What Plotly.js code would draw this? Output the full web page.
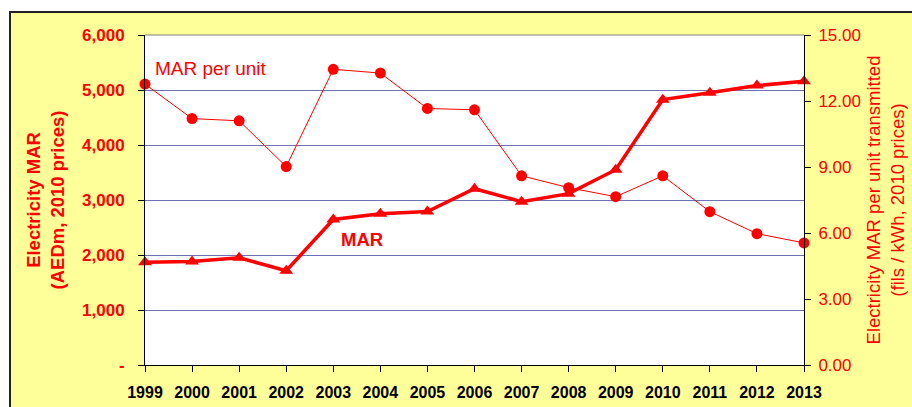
<!DOCTYPE html>
<html>
<head>
<meta charset="utf-8">
<script src="https://cdn.plot.ly/plotly-3.0.1.min.js"></script>
<style>
  html, body { margin: 0; padding: 0; background: #ffffff; width: 912px; height: 407px; overflow: hidden; }
  #frame { position: absolute; left: 9px; top: 11px; width: 920px; height: 420px;
           background: #FFFF99; border-left: 2px solid #222; border-top: 2px solid #222; }
  #chart { position: absolute; left: 0; top: 0; width: 912px; height: 407px; }
</style>
</head>
<body>
<div id="frame"></div>
<div id="chart"></div>
<script>
const years = [1999, 2000, 2001, 2002, 2003, 2004, 2005, 2006, 2007, 2008, 2009, 2010, 2011, 2012, 2013];
const mar = [1870, 1880, 1950, 1715, 2645, 2750, 2790, 3205, 2970, 3115, 3550, 4825, 4950, 5080, 5160];
const marPerUnit = [12.77, 11.2, 11.1, 9.02, 13.44, 13.27, 11.66, 11.6, 8.6, 8.06, 7.65, 8.6, 6.97, 5.97, 5.55];
const leftTickVals = [0, 1000, 2000, 3000, 4000, 5000, 6000];
const leftTickText = ['-', '1,000', '2,000', '3,000', '4,000', '5,000', '6,000'];
const rightTickVals = [0, 3, 6, 9, 12, 15];
const yearLabels = years.map(String);

const FONT = 'Arial, "Liberation Sans", sans-serif';
const RED = '#ff0000';

const traces = [
  {
    x: years, y: mar, name: 'MAR', type: 'scatter', mode: 'lines+markers',
    line: { color: RED, width: 3.5 },
    marker: { symbol: 'triangle-up', size: 12, color: RED },
    cliponaxis: false, yaxis: 'y', hoverinfo: 'x+y'
  },
  {
    x: years, y: marPerUnit, name: 'MAR per unit', type: 'scatter', mode: 'lines+markers',
    line: { color: RED, width: 1 },
    marker: { symbol: 'circle', size: 11, color: RED },
    cliponaxis: false, yaxis: 'y2', hoverinfo: 'x+y'
  }
];

const layout = {
  width: 912, height: 407,
  margin: { l: 145, r: 108, t: 35, b: 42 },
  paper_bgcolor: 'rgba(0,0,0,0)',
  plot_bgcolor: '#ffffff',
  showlegend: false,
  font: { family: FONT },
  xaxis: {
    range: [1999, 2013], tickvals: years, ticktext: yearLabels,
    showgrid: false, zeroline: false,
    showline: true, linecolor: '#000', linewidth: 1,
    ticks: 'outside', ticklen: 6, tickcolor: '#000',
    tickfont: { family: FONT, size: 16, color: '#000', weight: 'bold' },
    ticklabelstandoff: 7
  },
  yaxis: {
    range: [0, 6000], tickvals: leftTickVals, ticktext: leftTickText,
    showgrid: true, gridcolor: '#7070b4', gridwidth: 1, zeroline: false,
    showline: true, linecolor: '#000', linewidth: 1,
    ticks: 'outside', ticklen: 6, tickcolor: '#000',
    tickfont: { family: FONT, size: 17, color: RED, weight: 'bold' },
    ticklabelstandoff: 10,
    title: { text: 'Electricity MAR<br>(AEDm, 2010 prices)', standoff: 12,
             font: { family: FONT, size: 18.5, color: RED, weight: 'bold' } }
  },
  yaxis2: {
    range: [0, 15], tickvals: rightTickVals, tickformat: '.2f',
    overlaying: 'y', side: 'right',
    showgrid: false, zeroline: false,
    showline: true, linecolor: '#000', linewidth: 1,
    ticks: 'outside', ticklen: 6, tickcolor: '#000',
    tickfont: { family: FONT, size: 17, color: RED },
    ticklabelstandoff: 4,
    title: { text: 'Electricity MAR per unit transmitted<br>(fils / kWh, 2010 prices)', standoff: 7,
             font: { family: FONT, size: 18.5, color: RED } }
  },
  shapes: [
    { type: 'line', xref: 'paper', yref: 'paper', x0: 0, x1: 1, y0: 1, y1: 1,
      line: { color: '#808080', width: 1 }, layer: 'above' }
  ],
  annotations: [
    { x: 1999.17, y: 5390, xref: 'x', yref: 'y', text: 'MAR per unit', showarrow: false,
      xanchor: 'left', yanchor: 'middle', font: { family: FONT, size: 19, color: RED } },
    { x: 2003.13, y: 2280, xref: 'x', yref: 'y', text: 'MAR', showarrow: false,
      xanchor: 'left', yanchor: 'middle', font: { family: FONT, size: 18.5, color: RED, weight: 'bold' } }
  ]
};

Plotly.newPlot('chart', traces, layout, { displayModeBar: false, staticPlot: true });
</script>
</body>
</html>
